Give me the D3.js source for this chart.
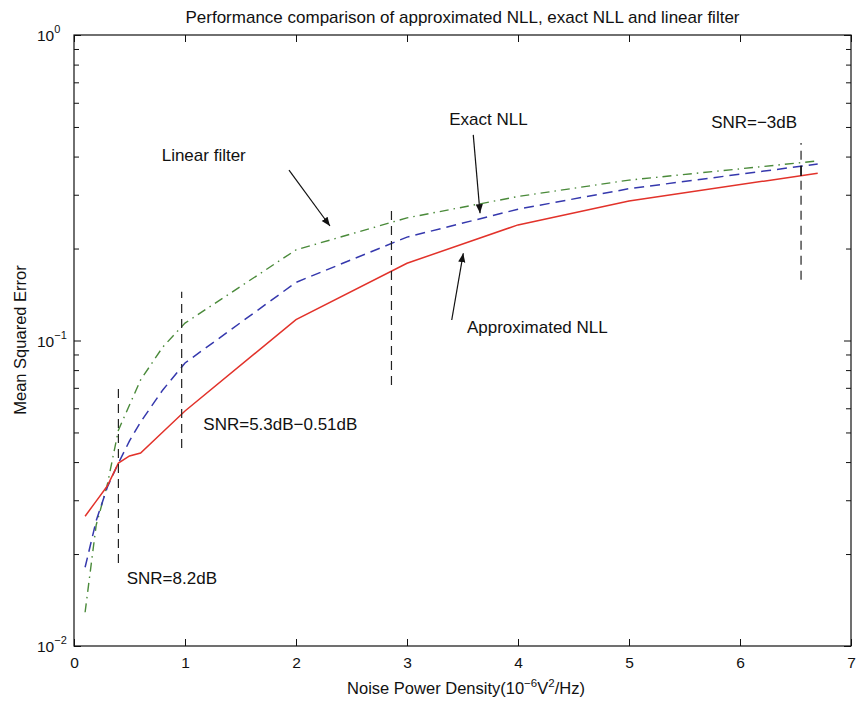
<!DOCTYPE html>
<html lang="en">
<head>
<meta charset="UTF-8">
<title>Performance comparison</title>
<script src="https://cdn.jsdelivr.net/npm/d3@7"></script>
<style>
  body { margin: 0; background: #fff; }
  svg { font-family: "Liberation Sans", Arial, sans-serif; }
  .axis .domain { display: none; }
  .axis line { stroke: #111; }
  .axis text { font-size: 15.5px; fill: #111; font-family: "Liberation Sans", Arial, sans-serif; }
  .note { font-size: 17px; fill: #111; }
</style>
</head>
<body>
<div id="chart"></div>
<script>
// noise power density (10^-6 V^2/Hz)
var noise = [0.1, 0.2, 0.3, 0.4, 0.5, 0.6, 0.8, 1, 2, 3, 4, 5, 6.7];
// mean squared error per method
var approxNLL    = [0.0266, 0.0298, 0.0334, 0.0397, 0.0419, 0.0428, 0.0502, 0.0588, 0.117, 0.179, 0.239, 0.286, 0.353];
var exactNLL     = [0.0181, 0.0257, 0.0331, 0.0397, 0.0469, 0.0541, 0.0689, 0.0844, 0.155, 0.218, 0.269, 0.314, 0.378];
var linearFilter = [0.0129, 0.0249, 0.0337, 0.0509, 0.0615, 0.0743, 0.0952, 0.114, 0.198, 0.252, 0.296, 0.335, 0.387];

var xTicks = [0, 1, 2, 3, 4, 5, 6, 7];
var yDecades = [0.01, 0.1, 1];
var yExponents = ['\u22122', '\u22121', '0'];

// SNR marker lines: x, y bottom, y top
var snrLines = [
  {x: 0.4,  y0: 0.0187, y1: 0.0715},
  {x: 0.97, y0: 0.0445, y1: 0.1445},
  {x: 2.86, y0: 0.0715, y1: 0.2777},
  {x: 6.55, y0: 0.158,  y1: 0.443}
];
var gapBar = {x: 6.55, y0: 0.3455, y1: 0.3735};

var notes = [
  {text: 'Linear filter',        x: 0.79,  y: 0.387},
  {text: 'Exact NLL',            x: 3.38,  y: 0.507},
  {text: 'Approximated NLL',     x: 3.54,  y: 0.1058},
  {text: 'SNR=5.3dB\u22120.51dB', x: 1.165, y: 0.0509},
  {text: 'SNR=8.2dB',            x: 0.475, y: 0.01596},
  {text: 'SNR=\u22123dB',        x: 5.74,  y: 0.495}
];
var arrows = [
  {x0: 1.937, y0: 0.361,  x1: 2.306, y1: 0.237},
  {x0: 3.597, y0: 0.471,  x1: 3.658, y1: 0.261},
  {x0: 3.403, y0: 0.1167, x1: 3.507, y1: 0.193}
];

var w = 858, h = 702;
var padL = 74, padR = 851, padT = 35, padB = 646;

var svg = d3.select('#chart').append('svg')
  .attr('width', w)
  .attr('height', h);

var xScale = d3.scaleLinear().domain([0, 7]).range([padL, padR]);
var yScale = d3.scaleLog().domain([0.01, 1]).range([padB, padT]);

var yMinor = yScale.ticks().filter(function(v) { return yDecades.indexOf(v) < 0; });

svg.append('defs').append('marker')
  .attr('id', 'head')
  .attr('viewBox', '0 0 10 10')
  .attr('refX', 10).attr('refY', 5)
  .attr('markerWidth', 9).attr('markerHeight', 9)
  .attr('markerUnits', 'userSpaceOnUse')
  .attr('orient', 'auto')
  .append('path')
  .attr('d', 'M0,1 L10,5 L0,9 Z')
  .attr('fill', '#111');

// axes, ticks pointing inwards on all four sides
svg.append('g').attr('class', 'x axis')
  .attr('transform', 'translate(0,' + padB + ')')
  .call(d3.axisBottom(xScale).tickValues(xTicks).tickSizeInner(-7).tickSizeOuter(0)
    .tickPadding(11).tickFormat(d3.format('d')));

svg.append('g').attr('class', 'axis')
  .attr('transform', 'translate(0,' + padT + ')')
  .call(d3.axisTop(xScale).tickValues(xTicks).tickSizeInner(-7).tickSizeOuter(0).tickFormat(''));

svg.append('g').attr('class', 'axis')
  .attr('transform', 'translate(' + padL + ',0)')
  .call(d3.axisLeft(yScale).tickValues(yDecades).tickSizeInner(-7).tickSizeOuter(0).tickFormat(''));
svg.append('g').attr('class', 'axis')
  .attr('transform', 'translate(' + padL + ',0)')
  .call(d3.axisLeft(yScale).tickValues(yMinor).tickSizeInner(-5).tickSizeOuter(0).tickFormat(''));

svg.append('g').attr('class', 'axis')
  .attr('transform', 'translate(' + padR + ',0)')
  .call(d3.axisRight(yScale).tickValues(yDecades).tickSizeInner(-7).tickSizeOuter(0).tickFormat(''));
svg.append('g').attr('class', 'axis')
  .attr('transform', 'translate(' + padR + ',0)')
  .call(d3.axisRight(yScale).tickValues(yMinor).tickSizeInner(-5).tickSizeOuter(0).tickFormat(''));

svg.append('rect')
  .attr('x', padL).attr('y', padT)
  .attr('width', padR - padL).attr('height', padB - padT)
  .attr('fill', 'none').attr('stroke', '#111').attr('stroke-width', 1.2);

// y labels 10^n
var yLab = svg.append('g').selectAll('text').data(yDecades).enter().append('text')
  .attr('x', 37)
  .attr('y', function(d) { return yScale(d) + 6; })
  .attr('font-size', '15.5px')
  .attr('fill', '#111');
yLab.append('tspan').text('10');
yLab.append('tspan')
  .attr('dy', -8)
  .attr('font-size', '11px')
  .text(function(d, i) { return yExponents[i]; });

// series
var line = d3.line()
  .x(function(d) { return xScale(d[0]); })
  .y(function(d) { return yScale(d[1]); });

function pairs(vals) { return noise.map(function(x, i) { return [x, vals[i]]; }); }

svg.append('path').datum(pairs(linearFilter))
  .attr('d', line).attr('fill', 'none')
  .attr('stroke', '#4a8a3a').attr('stroke-width', 1.4)
  .attr('stroke-dasharray', '9,5,1.5,5');
svg.append('path').datum(pairs(exactNLL))
  .attr('d', line).attr('fill', 'none')
  .attr('stroke', '#3538ad').attr('stroke-width', 1.5)
  .attr('stroke-dasharray', '10,6');
svg.append('path').datum(pairs(approxNLL))
  .attr('d', line).attr('fill', 'none')
  .attr('stroke', '#e2322a').attr('stroke-width', 1.5);

// SNR markers
svg.append('g').selectAll('line').data(snrLines).enter().append('line')
  .attr('x1', function(d) { return xScale(d.x); })
  .attr('x2', function(d) { return xScale(d.x); })
  .attr('y1', function(d) { return yScale(d.y0); })
  .attr('y2', function(d) { return yScale(d.y1); })
  .attr('stroke', '#222').attr('stroke-width', 1.2)
  .attr('stroke-dasharray', '9,6');
svg.append('line')
  .attr('x1', xScale(gapBar.x)).attr('x2', xScale(gapBar.x))
  .attr('y1', yScale(gapBar.y0)).attr('y2', yScale(gapBar.y1))
  .attr('stroke', '#111').attr('stroke-width', 1.5);

// arrows
svg.append('g').selectAll('line').data(arrows).enter().append('line')
  .attr('x1', function(d) { return xScale(d.x0); })
  .attr('y1', function(d) { return yScale(d.y0); })
  .attr('x2', function(d) { return xScale(d.x1); })
  .attr('y2', function(d) { return yScale(d.y1); })
  .attr('stroke', '#111').attr('stroke-width', 1.2)
  .attr('marker-end', 'url(#head)');

svg.append('g').selectAll('text').data(notes).enter().append('text')
  .attr('class', 'note')
  .attr('x', function(d) { return xScale(d.x); })
  .attr('y', function(d) { return yScale(d.y); })
  .text(function(d) { return d.text; });

// titles
svg.append('text')
  .attr('x', (padL + padR) / 2).attr('y', 23)
  .attr('text-anchor', 'middle')
  .attr('font-size', '17px').attr('fill', '#111')
  .text('Performance comparison of approximated NLL, exact NLL and linear filter');

var xl = svg.append('text')
  .attr('x', 466).attr('y', 694)
  .attr('text-anchor', 'middle')
  .attr('font-size', '16.5px').attr('fill', '#111');
xl.append('tspan').text('Noise Power Density(10');
xl.append('tspan').attr('dy', -7).attr('font-size', '11.5px').text('\u22126');
xl.append('tspan').attr('dy', 7).text('V');
xl.append('tspan').attr('dy', -7).attr('font-size', '11.5px').text('2');
xl.append('tspan').attr('dy', 7).text('/Hz)');

svg.append('text')
  .attr('transform', 'translate(26,340) rotate(-90)')
  .attr('text-anchor', 'middle')
  .attr('font-size', '16.5px').attr('fill', '#111')
  .text('Mean Squared Error');
</script>
</body>
</html>
